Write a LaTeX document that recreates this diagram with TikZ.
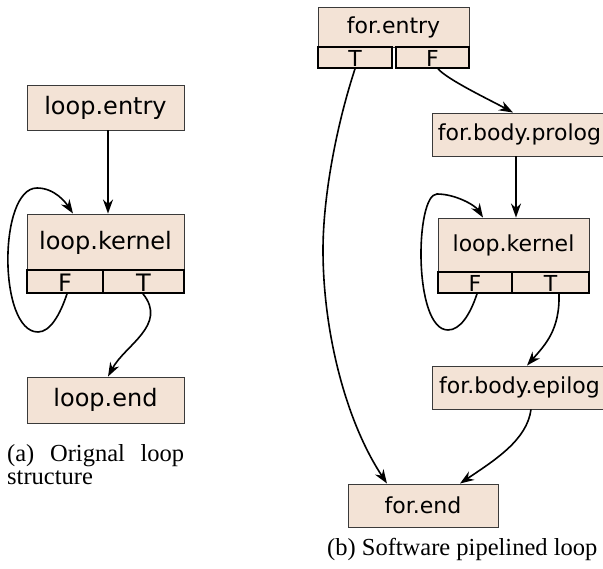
\documentclass[tikz,border=0pt]{standalone}
\usepackage{fontspec}
\setmainfont{Liberation Serif}
\newfontfamily\boxfont{DejaVu Sans}
\usetikzlibrary{arrows.meta}
\definecolor{blockfill}{HTML}{F3E3D6}
\definecolor{blockline}{HTML}{3A3A3A}
\begin{document}
\begin{tikzpicture}[x=1pt,y=-1pt,
  blk/.style={draw=blockline, line width=0.9pt, fill=blockfill, inner sep=0pt},
  rowbox/.style={draw=black, line width=1.7pt, fill=blockfill, inner sep=0pt, text depth=0pt},
  lfont/.style={font=\boxfont\fontsize{24}{28}\selectfont},
  rfont/.style={font=\boxfont\fontsize{22}{26}\selectfont},
  arr/.style={line width=1.6pt, -{Stealth[length=14pt,width=10pt,inset=4.5pt]}},
  captext/.style={font=\fontsize{24.5}{23.2}\selectfont, inner sep=0pt}
]
\path[use as bounding box, clip] (0,0) rectangle (603,569);

% ---------- (a) ----------
\node[blk, lfont, minimum width=157pt, minimum height=45pt] (le) at (105.5,107.5) {loop.entry};
\node[blk, lfont, minimum width=157pt, minimum height=56pt, text depth=4pt] (lk) at (105.5,242) {loop.kernel};
\node[rowbox, lfont, minimum width=76pt, minimum height=23pt, text height=20pt] (lkF) at (65,281.5) {F};
\node[rowbox, lfont, minimum width=81pt, minimum height=23pt, text height=20pt] (lkT) at (143.5,281.5) {T};
\node[blk, lfont, minimum width=157pt, minimum height=46pt] (lend) at (105.5,400) {loop.end};

\draw[arr] ([xshift=2.5pt]le.south) -- ([xshift=2.5pt]lk.north);
\draw[arr] ([xshift=2pt]lkF.south) .. controls (60,315) and (50,332) .. (38,332)
  .. controls (-2,332) and (-2,188) .. (37,188)
  .. controls (55,188) and (66,203) .. ([xshift=-32.5pt]lk.north);
\draw[arr] ([xshift=-0.5pt]lkT.south) .. controls (168,325) and (125,345) .. ([xshift=2.5pt]lend.north);

\node[captext, anchor=north west, text width=177pt, align=left] (capa) at (7,444)
  {(a)\hfill Orignal\hfill loop\\structure};

% ---------- (b) ----------
\node[blk, rfont, minimum width=151pt, minimum height=40pt] (fe) at (393.5,27) {for.entry};
\node[rowbox, rfont, minimum width=74pt, minimum height=21pt, text height=18.5pt] (feT) at (355,57.5) {T};
\node[rowbox, rfont, minimum width=73pt, minimum height=21pt, text height=18.5pt] (feF) at (432.5,57.5) {F};
\node[blk, rfont, minimum width=175pt, minimum height=43pt] (pro) at (519.5,134.5) {for.body.prolog};
\node[blk, rfont, minimum width=151pt, minimum height=54pt] (rk) at (513.5,245) {loop.kernel};
\node[rowbox, rfont, minimum width=74pt, minimum height=21pt, text height=18.5pt] (rkF) at (475,282.5) {F};
\node[rowbox, rfont, minimum width=77pt, minimum height=21pt, text height=18.5pt] (rkT) at (550.5,282.5) {T};
\node[blk, rfont, minimum width=175pt, minimum height=43pt] (epi) at (519.5,387.5) {for.body.epilog};
\node[blk, rfont, minimum width=150pt, minimum height=43pt] (fend) at (423,505.5) {for.end};

\draw[arr] ([xshift=5.5pt]feF.south) .. controls (448,80) and (490,100) .. ([xshift=-6.5pt]pro.north);
\draw[arr] ([xshift=-3.5pt]pro.south) -- ([xshift=2.5pt]rk.north);
\draw[arr] ([xshift=2pt]rkF.south) .. controls (470,315) and (460,330) .. (448,330)
  .. controls (413,330) and (415,194) .. (437,194)
  .. controls (455,194) and (475,205) .. ([xshift=-30.5pt]rk.north);
\draw[arr] ([xshift=8.5pt]rkT.south) .. controls (560,330) and (545,345) .. ([xshift=7.5pt]epi.north);
\draw[arr] ([xshift=11.5pt]epi.south) .. controls (527,440) and (495,460) .. ([xshift=37pt]fend.north);
\draw[arr] (feT.south) .. controls (335,130) and (323,200) .. (323,250)
  .. controls (323,330) and (345,420) .. ([xshift=-36pt]fend.north);

\node[captext, anchor=base west] (capb) at (327,555) {(b) Software pipelined loop};
\end{tikzpicture}
\end{document}
